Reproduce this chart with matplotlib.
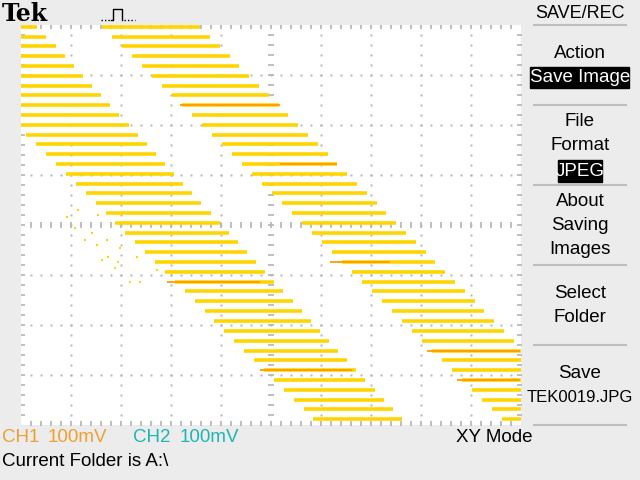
import numpy as np
import matplotlib
matplotlib.use('Agg')
import matplotlib.pyplot as plt
from matplotlib.patches import Rectangle
from matplotlib.lines import Line2D

# XY trace: one horizontal raster line per row (mV)
row_y = [396, 376, 357, 337, 318, 298, 278, 259, 239, 220, 200, 180, 161, 141,
         122, 102, 82, 63, 43, 24, 4, -16, -35, -55, -74, -94, -114, -133,
         -153, -172, -192, -212, -231, -251, -270, -290, -310, -329, -349,
         -368, -388]
band1_x0 = [-500, -500, -500, -500, -500, -500, -500, -500, -500, -500, -500,
            -490, -470, -450, -430, -411, -391, -371, -351, -331, -312, -292,
            -272, -252, -232, -213, -193, -173, -153, -133, -114, -94, -74,
            -54, -35, -15, 5, 25, 45, 65, 84]
band1_x1 = [-468, -450, -431, -413, -395, -377, -358, -340, -322, -304, -285,
            -267, -249, -231, -213, -194, -176, -158, -140, -121, -103, -85,
            -67, -49, -30, -12, 6, 24, 43, 61, 79, 97, 116, 134, 152, 170,
            188, 207, 225, 243, 261]
band2_x0 = [-339, -319, -299, -279, -259, -239, -219, -199, -179, -159, -139,
            -119, -99, -79, -59, -39, -19, 1, 21, 41, 61, 81, 101, 121, 141,
            161, 181, 201, 221, 241, 261, 281, 301, 321, 341, 361, 381, 401,
            421, 441, 461]
band2_x1 = [-142, -122, -103, -83, -64, -44, -24, -5, 15, 34, 54, 74, 93, 113,
            132, 152, 172, 191, 211, 230, 250, 270, 289, 309, 328, 348, 368,
            387, 407, 426, 446, 466, 485, 500, 500, 500, 500, 500, 500, 500,
            500]

# brighter (orange) passes
hot_y = [239, 122, -114, -290, -251, -310, -74]
hot_x0 = [-182, 18, -208, -22, 312, 372, 118]
hot_x1 = [18, 132, -22, 162, 498, 498, 238]

# stray points left of the first band
stray_x = [-408, -386, -392, -372, -346, -348, -358, -328, -326, -306, -312,
           -302, -268, -282, -262, -228, -338]
stray_y = [16, 30, -6, -30, 20, -40, -16, -30, -64, -74, -86, -46, -64, -114,
           -114, -90, -70]

BG = '#ECECEC'
GRID = '#B4B4B4'
YEL = '#FFD500'
ORG = '#FF9A00'
W, H = 640, 480

fig = plt.figure(figsize=(6.4, 4.8), dpi=100, facecolor=BG)


def px_text(x, y, s, **kw):
    kw.setdefault('va', 'center')
    fig.text(x / W, 1 - y / H, s, **kw)


# graticule area: x 21..521 px, y 25..425 px
ax = fig.add_axes([21 / W, 1 - 425 / H, 500 / W, 400 / H])
ax.set_facecolor('white')
ax.set_xlim(-500, 500)
ax.set_ylim(-400, 400)
for s in ax.spines.values():
    s.set_visible(False)
ax.set_xticks([])
ax.set_yticks([])

dots = np.arange(-380, 381, 20)
for gx in range(-400, 401, 100):
    if gx != 0:
        ax.plot(np.full_like(dots, gx), dots, 's', color=GRID, ms=1.4, mew=0, zorder=1)
for gy in range(-300, 301, 100):
    if gy != 0:
        ax.plot(np.arange(-480, 481, 20), np.full(49, gy), 's', color=GRID, ms=1.4, mew=0, zorder=1)
# centre cross ticks
ax.plot(np.arange(-480, 481, 20), np.zeros(49), '|', color=GRID, ms=4, mew=1.2, zorder=1)
ax.plot(np.zeros_like(dots), dots, '_', color=GRID, ms=4, mew=1.2, zorder=1)
# edge ticks
ax.plot(np.arange(-480, 481, 20), np.full(49, 400), '|', color=GRID, ms=6, mew=1.2, zorder=1)
ax.plot(np.arange(-480, 481, 20), np.full(49, -400), '|', color=GRID, ms=6, mew=1.2, zorder=1)
ax.plot(np.full_like(dots, -500), dots, '_', color=GRID, ms=6, mew=1.2, zorder=1)
ax.plot(np.full_like(dots, 500), dots, '_', color=GRID, ms=6, mew=1.2, zorder=1)

# trace
ax.hlines(row_y, band1_x0, band1_x1, colors=YEL, linewidth=2.6, zorder=2)
ax.hlines(row_y, band2_x0, band2_x1, colors=YEL, linewidth=2.6, zorder=2)
ax.hlines(hot_y, hot_x0, hot_x1, colors=ORG, linewidth=1.3, zorder=3)
ax.scatter(stray_x, stray_y, marker='s', s=3, color=YEL, linewidths=0, zorder=2)

# header
px_text(2, 14, 'Tek', family='DejaVu Serif', weight='bold', fontsize=17)
fig.add_artist(Line2D(np.array([101, 110]) / W, 1 - np.array([20, 20]) / H,
                      color='black', lw=1, ls=(0, (1, 1.5))))
fig.add_artist(Line2D(np.array([111, 113, 113, 122, 122]) / W,
                      1 - np.array([20, 20, 9, 9, 20]) / H, color='black', lw=1))
fig.add_artist(Line2D(np.array([124, 135]) / W, 1 - np.array([20, 20]) / H,
                      color='black', lw=1, ls=(0, (1, 1.5))))

# side menu
MENU = ['Liberation Sans', 'DejaVu Sans']
px_text(580, 13, 'SAVE/REC', ha='center', family=MENU, fontsize=13)
for sy in [25, 105, 185, 265, 345, 425]:
    fig.add_artist(Line2D([534 / W, 626 / W], [1 - sy / H] * 2, color='#BDBDBD', lw=1.5))
fig.add_artist(Rectangle((530 / W, 1 - 88 / H), 99 / W, 21 / H,
                         transform=fig.transFigure, color='black'))
fig.add_artist(Rectangle((558 / W, 1 - 182 / H), 44 / W, 22 / H,
                         transform=fig.transFigure, color='black'))
menu = [(53, 'Action', 'black'), (78, 'Save Image', 'white'),
        (122, 'File', 'black'), (146, 'Format', 'black'), (171, 'JPEG', 'white'),
        (202, 'About', 'black'), (226, 'Saving', 'black'), (250, 'Images', 'black'),
        (294, 'Select', 'black'), (318, 'Folder', 'black'),
        (374, 'Save', 'black')]
for my, label, col in menu:
    px_text(580, my, label, ha='center', family=MENU, fontsize=13.5, color=col)
px_text(580, 397, 'TEK0019.JPG', ha='center', family=MENU, fontsize=12, color='black')

# status lines
px_text(2, 437, 'CH1', family=MENU, fontsize=13.5, color='#F0A030')
px_text(48, 437, '100mV', family=MENU, fontsize=13.5, color='#F0A030')
px_text(133, 437, 'CH2', family=MENU, fontsize=13.5, color='#1FB5B5')
px_text(180, 437, '100mV', family=MENU, fontsize=13.5, color='#1FB5B5')
px_text(532, 437, 'XY Mode', ha='right', family=MENU, fontsize=13.5, color='black')
px_text(2, 461, 'Current Folder is A:\\', family=MENU, fontsize=13.5, color='black')

fig.savefig('out.png', dpi=100, facecolor=BG)
